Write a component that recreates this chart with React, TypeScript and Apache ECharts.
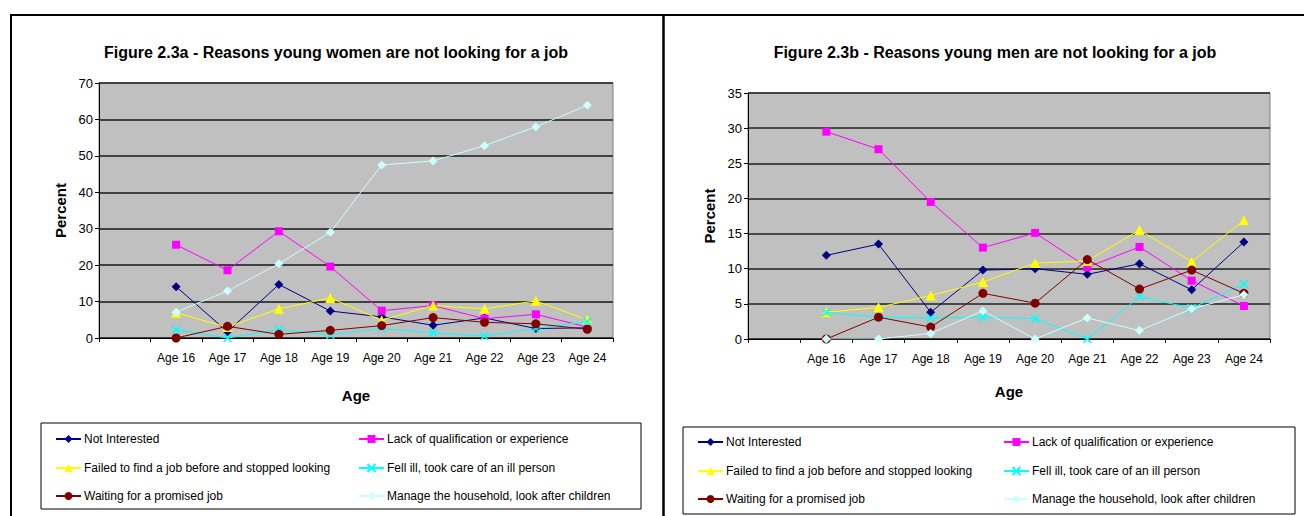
import React, { useEffect, useRef } from "react";
import * as echarts from "echarts";

const categories = ["", "Age 16", "Age 17", "Age 18", "Age 19", "Age 20", "Age 21", "Age 22", "Age 23", "Age 24"];

const seriesNames = [
  "Not Interested",
  "Lack of qualification or experience",
  "Failed to find a job before and stopped looking",
  "Fell ill, took care of an ill person",
  "Waiting for a promised job",
  "Manage the household, look after children",
];

// Figure 2.3a - women
const womenNotInterested = [null, 14.1, 1.7, 14.7, 7.4, 5.8, 3.5, 5.5, 2.6, 2.8];
const womenLackQualification = [null, 25.6, 18.6, 29.3, 19.6, 7.5, 8.9, 5.3, 6.5, 3.0];
const womenFailedStopped = [null, 6.9, 3.0, 8.0, 11.0, 4.9, 8.9, 8.0, 10.2, 5.0];
const womenFellIll = [null, 2.3, 0.0, 2.3, 0.9, 2.6, 1.4, 0.5, 2.6, 4.5];
const womenWaitingJob = [null, 0.0, 3.2, 1.0, 2.1, 3.4, 5.6, 4.3, 3.9, 2.4];
const womenHousehold = [null, 7.1, 12.9, 20.4, 29.0, 47.5, 48.6, 52.8, 58.0, 63.9];

// Figure 2.3b - men
const menNotInterested = [null, 11.9, 13.5, 3.8, 9.8, 10.0, 9.2, 10.7, 7.0, 13.8];
const menLackQualification = [null, 29.5, 27.0, 19.5, 13.0, 15.1, 10.2, 13.1, 8.3, 4.7];
const menFailedStopped = [null, 3.8, 4.5, 6.2, 8.1, 10.8, 11.1, 15.5, 11.0, 16.9];
const menFellIll = [null, 3.8, 3.1, 3.0, 3.1, 2.9, 0.0, 6.0, 4.4, 7.8];
const menWaitingJob = [null, 0.0, 3.1, 1.7, 6.5, 5.1, 11.3, 7.1, 9.8, 6.5];
const menHousehold = [null, 0.0, 0.0, 0.8, 4.0, 0.0, 3.0, 1.2, 4.3, 6.3];

const womenTicks = [0, 10, 20, 30, 40, 50, 60, 70];
const menTicks = [0, 5, 10, 15, 20, 25, 30, 35];

const colors = ["#000080", "#FF00FF", "#FFFF00", "#00FFFF", "#800000", "#CCFFFF"];
const symbols = [
  "diamond",
  "rect",
  "triangle",
  "path://M0,0 L10,10 M10,0 L0,10",
  "circle",
  "diamond",
];
const symbolSizes = [9, 8, 10, 8, 9, 9];

const FONT = "'Liberation Sans Narrow', 'Liberation Sans', Arial, sans-serif";

export default function App() {
  const ref = useRef<HTMLDivElement>(null);
  useEffect(() => {
    if (!ref.current) return;
    const chart = echarts.init(ref.current, null, { renderer: "svg" });
    const womenData = [womenNotInterested, womenLackQualification, womenFailedStopped, womenFellIll, womenWaitingJob, womenHousehold];
    const menData = [menNotInterested, menLackQualification, menFailedStopped, menFellIll, menWaitingJob, menHousehold];

    const mkSeries = (data: (number | null)[][], idx: number) =>
      data.map((d, i) => ({
        type: "line",
        name: seriesNames[i],
        xAxisIndex: idx,
        yAxisIndex: idx,
        data: d,
        symbol: symbols[i],
        symbolSize: symbolSizes[i],
        showAllSymbol: true,
        lineStyle: { color: colors[i], width: 1 },
        itemStyle: i === 3
          ? { color: colors[i], borderColor: colors[i], borderWidth: 1.5 }
          : { color: colors[i], borderColor: colors[i], borderWidth: 0 },
        emphasis: { disabled: true },
        z: 3 + i,
      }));

    const mkLegend = (i: number, left: number, top: number) => ({
      data: [seriesNames[i]],
      left,
      top,
      padding: 0,
      itemWidth: 25,
      itemHeight: 10,
      selectedMode: false,
      textStyle: { fontSize: 12, fontFamily: FONT, color: "#000", padding: [0, 0, 0, -2] },
    });

    const legendLeftCols = [55, 358];
    const legendRightCols = [697, 1003];
    const legendLeftRows = [433, 462, 490];
    const legendRightRows = [436, 465, 493];
    const legends: any[] = [];
    for (let i = 0; i < 6; i++) {
      const col = i % 2;
      const row = Math.floor(i / 2);
      legends.push(mkLegend(i, legendLeftCols[col], legendLeftRows[row]));
      legends.push(mkLegend(i, legendRightCols[col], legendRightRows[row]));
    }

    const mkX = (gridIndex: number, margin: number, nameGap: number) => ({
      type: "category",
      gridIndex,
      data: categories,
      boundaryGap: true,
      name: "Age",
      nameLocation: "middle",
      nameGap,
      nameTextStyle: { fontSize: 15, fontWeight: "bold", fontFamily: FONT, color: "#000" },
      axisLine: { show: true, lineStyle: { color: "#000", width: 1 } },
      axisTick: { show: true, interval: 0, length: 4, lineStyle: { color: "#000" } },
      axisLabel: { interval: 0, margin, fontSize: 12, fontFamily: FONT, color: "#000" },
      splitLine: { show: false },
    });

    const mkY = (gridIndex: number, max: number, interval: number, ticks: number[], splitColor: string, splitWidth: number) => ({
      type: "value",
      gridIndex,
      min: ticks[0],
      max,
      interval,
      name: "Percent",
      nameLocation: "middle",
      nameGap: 31,
      nameTextStyle: { fontSize: 15, fontWeight: "bold", fontFamily: FONT, color: "#000", letterSpacing: 2.5 } as any,
      axisLine: { show: true, lineStyle: { color: "#000", width: 1 } },
      axisTick: { show: true, length: 4, lineStyle: { color: "#000" } },
      axisLabel: {
        fontSize: 13,
        fontFamily: FONT,
        color: "#000",
        margin: 6,
        formatter: (v: number) => (ticks.indexOf(v) >= 0 ? String(v) : ""),
      },
      splitLine: { show: true, lineStyle: { color: splitColor, width: splitWidth } },
    });

    chart.setOption({
      animation: false,
      backgroundColor: "#fff",
      title: [
        {
          text: "Figure 2.3a - Reasons young women are not looking for a job",
          left: 331,
          top: 39,
          textAlign: "center",
          textStyle: { fontSize: 16, fontWeight: "bold", fontFamily: FONT, color: "#000" },
        },
        {
          text: "Figure 2.3b - Reasons young men are not looking for a job",
          left: 990,
          top: 39,
          textAlign: "center",
          textStyle: { fontSize: 16, fontWeight: "bold", fontFamily: FONT, color: "#000" },
        },
      ],
      grid: [
        { left: 99, top: 83, width: 514, height: 255, show: true, backgroundColor: "#C0C0C0", borderColor: "#808080", borderWidth: 1 },
        { left: 748, top: 93, width: 522, height: 246, show: true, backgroundColor: "#C0C0C0", borderColor: "#808080", borderWidth: 1 },
      ],
      xAxis: [mkX(0, 14, 50), mkX(1, 14, 45)],
      yAxis: [
        mkY(0, 70, 10, womenTicks, "#404040", 2),
        mkY(1, 35, 5, menTicks, "#202020", 1.5),
      ],
      legend: legends,
      series: [...mkSeries(womenData, 0), ...mkSeries(menData, 1)],
      graphic: [
        { type: "line", shape: { x1: 10, y1: 15, x2: 1304, y2: 15 }, style: { stroke: "#000", lineWidth: 2 } },
        { type: "line", shape: { x1: 11, y1: 15, x2: 11, y2: 516 }, style: { stroke: "#000", lineWidth: 2 } },
        { type: "line", shape: { x1: 663.5, y1: 15, x2: 663.5, y2: 516 }, style: { stroke: "#000", lineWidth: 2.5 } },
        { type: "rect", shape: { x: 41, y: 423, width: 600, height: 86 }, style: { stroke: "#000", fill: "none", lineWidth: 1 } },
        { type: "rect", shape: { x: 683, y: 427, width: 612, height: 87 }, style: { stroke: "#000", fill: "none", lineWidth: 1 } },
      ],
    });
    return () => chart.dispose();
  }, []);
  return (
    <div
      ref={ref}
      style={{ position: "fixed", left: 0, top: 0, width: 1304, height: 516 }}
    />
  );
}
